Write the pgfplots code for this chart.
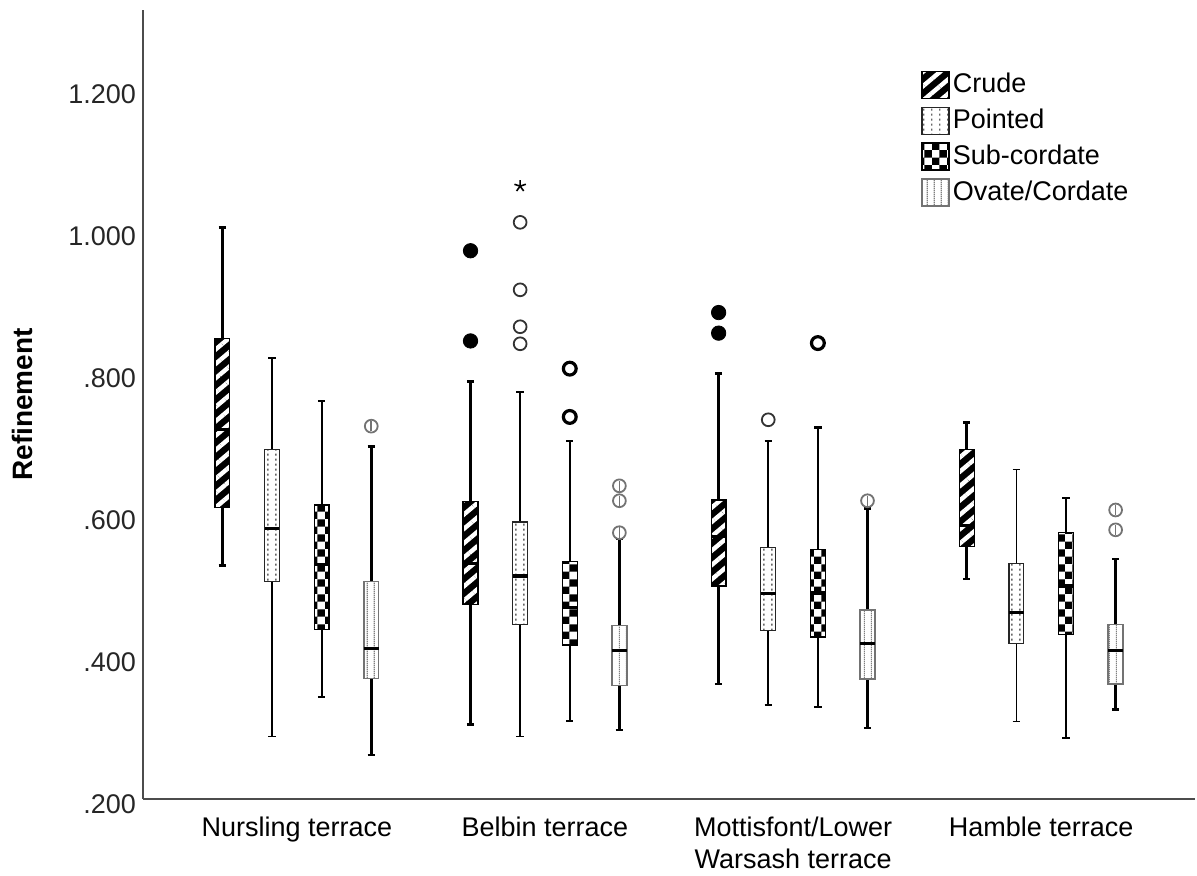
\documentclass[border=0pt]{standalone}
\usepackage{fontspec}
\setmainfont{Liberation Sans}
\usepackage{pgfplots}
\pgfplotsset{compat=1.18}
\usepgfplotslibrary{statistics}
\usetikzlibrary{patterns,patterns.meta}

% SPSS-like fills
\pgfdeclarepatternformonly{spssdots}{\pgfpointorigin}{\pgfqpoint{4pt}{2.5pt}}{\pgfqpoint{4pt}{2.5pt}}{%
  \pgfpathrectangle{\pgfqpoint{1.7pt}{0.2pt}}{\pgfqpoint{0.7pt}{1.2pt}}\pgfusepath{fill}}
\pgfdeclarepatternformonly{spssvlines}{\pgfpointorigin}{\pgfqpoint{3.5pt}{1pt}}{\pgfqpoint{3.5pt}{1pt}}{%
  \pgfpathrectangle{\pgfqpoint{1.5pt}{0pt}}{\pgfqpoint{0.65pt}{1pt}}\pgfusepath{fill}}
\pgfdeclarepatternformonly{spsscheck}{\pgfpointorigin}{\pgfqpoint{7.4pt}{7.4pt}}{\pgfqpoint{7.4pt}{7.4pt}}{%
  \pgfpathrectangle{\pgfpointorigin}{\pgfqpoint{3.7pt}{3.7pt}}%
  \pgfpathrectangle{\pgfqpoint{3.7pt}{3.7pt}}{\pgfqpoint{3.7pt}{3.7pt}}\pgfusepath{fill}}

\tikzset{
  crudebox/.style={preaction={fill=black}, pattern={Lines[angle=40,distance=5.5pt,line width=2.2pt]}, pattern color=white, draw=black, line width=0.6pt},
  pointbox/.style={preaction={fill=white}, pattern=spssdots, pattern color=black!60, draw=black!85, line width=0.6pt},
  subbox/.style={preaction={fill=white}, pattern=spsscheck, pattern color=black, draw=black, line width=0.6pt},
  ovatebox/.style={preaction={fill=white}, pattern=spssvlines, pattern color=black!50, draw=black!55, line width=0.7pt},
}

\pgfplotsset{
  crude/.style={forget plot, black, boxplot/every box/.style={/tikz/crudebox}, boxplot/every whisker/.style={line width=1.3pt}, boxplot/every median/.style={line width=1.6pt}},
  point/.style={forget plot, black, boxplot/every box/.style={/tikz/pointbox}, boxplot/every whisker/.style={line width=0.8pt}, boxplot/every median/.style={line width=1.6pt}},
  sub/.style={forget plot, black, boxplot/every box/.style={/tikz/subbox}, boxplot/every whisker/.style={line width=1.1pt}, boxplot/every median/.style={line width=1.6pt}},
  ovate/.style={forget plot, black, boxplot/every box/.style={/tikz/ovatebox}, boxplot/every whisker/.style={line width=1.3pt}, boxplot/every median/.style={line width=1.6pt}},
}

% style, position, lower whisker, lower quartile, median, upper quartile, upper whisker
\newcommand{\bx}[7]{\addplot[#1, boxplot prepared={draw position=#2, lower whisker=#3, lower quartile=#4, median=#5, upper quartile=#6, upper whisker=#7}] coordinates {};}

\newcommand{\lab}{\fontsize{13.5}{16}\selectfont}

\begin{document}
\begin{tikzpicture}
\begin{axis}[
  at={(71.5pt,38pt)}, anchor=south west,
  scale only axis, width=526pt, height=394.5pt,
  xmin=-0.62, xmax=3.62, ymin=0.2, ymax=1.311,
  axis x line*=bottom, axis y line*=left,
  axis line style={black!70, line width=0.8pt},
  major tick length=0pt,
  xtick={0,1,2,3},
  xticklabels={Nursling terrace, Belbin terrace, {Mottisfont/Lower\\Warsash terrace}, Hamble terrace},
  xticklabel style={align=center, yshift=-5.5pt, font=\lab},
  ytick={0.2,0.4,0.6,0.8,1.0,1.2},
  yticklabels={.200,.400,.600,.800,1.000,1.200},
  yticklabel style={yshift=-2.5pt, font=\lab, text=black!85},
  ylabel={Refinement},
  ylabel style={at={(axis description cs:-0.115,0.5)}, anchor=center, font=\bfseries\fontsize{14}{16}\selectfont},
  legend style={draw=none, fill=none, at={(axis description cs:0.7395,0.924)}, anchor=north west,
    inner sep=0pt, font=\lab, row sep=3.7pt, nodes={inner sep=1.5pt}},
  legend cell align=left,
  boxplot/draw direction=y,
  boxplot/box extend=0.06, boxplot/whisker extend=0.03,
]

\addlegendimage{legend image code/.code={\draw[crudebox] (0pt,-6.75pt) rectangle (13.5pt,6.75pt);}}
\addlegendentry{Crude}
\addlegendimage{legend image code/.code={\draw[pointbox] (0pt,-6.75pt) rectangle (13.5pt,6.75pt);}}
\addlegendentry{Pointed}
\addlegendimage{legend image code/.code={\draw[subbox] (0pt,-6.75pt) rectangle (13.5pt,6.75pt);}}
\addlegendentry{Sub-cordate}
\addlegendimage{legend image code/.code={\draw[ovatebox] (0pt,-6.75pt) rectangle (13.5pt,6.75pt);}}
\addlegendentry{Ovate/Cordate}

% Nursling terrace
\bx{crude}{-0.3}{0.529}{0.610}{0.720}{0.849}{1.005}
\bx{point}{-0.1}{0.288}{0.506}{0.581}{0.692}{0.821}
\bx{sub}{0.1}{0.344}{0.439}{0.530}{0.614}{0.761}
\bx{ovate}{0.3}{0.262}{0.370}{0.412}{0.506}{0.696}
% Belbin terrace
\bx{crude}{0.7}{0.305}{0.474}{0.532}{0.619}{0.788}
\bx{point}{0.9}{0.288}{0.446}{0.514}{0.590}{0.773}
\bx{sub}{1.1}{0.310}{0.417}{0.470}{0.534}{0.704}
\bx{ovate}{1.3}{0.297}{0.360}{0.409}{0.444}{0.566}
% Mottisfont/Lower Warsash terrace
\bx{crude}{1.7}{0.362}{0.500}{0.570}{0.621}{0.799}
\bx{point}{1.9}{0.332}{0.437}{0.489}{0.554}{0.704}
\bx{sub}{2.1}{0.330}{0.428}{0.490}{0.551}{0.723}
\bx{ovate}{2.3}{0.300}{0.369}{0.419}{0.466}{0.609}
% Hamble terrace
\bx{crude}{2.7}{0.510}{0.555}{0.585}{0.692}{0.730}
\bx{point}{2.9}{0.309}{0.419}{0.463}{0.532}{0.664}
\bx{sub}{3.1}{0.286}{0.432}{0.500}{0.575}{0.624}
\bx{ovate}{3.3}{0.326}{0.362}{0.409}{0.446}{0.538}

% outliers
\addplot[forget plot, only marks, mark=*, mark size=3.6pt, black]
  coordinates {(0.7,0.972) (0.7,0.845) (1.7,0.885) (1.7,0.856)};
\addplot[forget plot, only marks, mark=o, mark size=3.2pt, black!80, line width=0.9pt]
  coordinates {(0.9,1.012) (0.9,0.917) (0.9,0.865) (0.9,0.841) (1.9,0.734)};
\addplot[forget plot, only marks, mark=star, mark size=3pt, black, line width=0.8pt]
  coordinates {(0.9,1.063)};
\addplot[forget plot, only marks, mark=o, mark size=3.2pt, black, line width=1.6pt]
  coordinates {(1.1,0.806) (1.1,0.738) (2.1,0.842)};
\addplot[forget plot, only marks, mark=o, mark size=3.2pt, black!55, line width=0.9pt]
  coordinates {(0.3,0.725) (1.3,0.641) (1.3,0.620) (1.3,0.575) (2.3,0.620) (3.3,0.607) (3.3,0.579)};
\addplot[forget plot, only marks, mark=|, mark size=2.6pt, black!55, line width=0.8pt]
  coordinates {(0.3,0.725) (1.3,0.641) (1.3,0.620) (1.3,0.575) (2.3,0.620) (3.3,0.607) (3.3,0.579)};

\end{axis}
\pgfresetboundingbox
\path[use as bounding box] (0,0) rectangle (598.5pt,437.5pt);
\end{tikzpicture}
\end{document}
